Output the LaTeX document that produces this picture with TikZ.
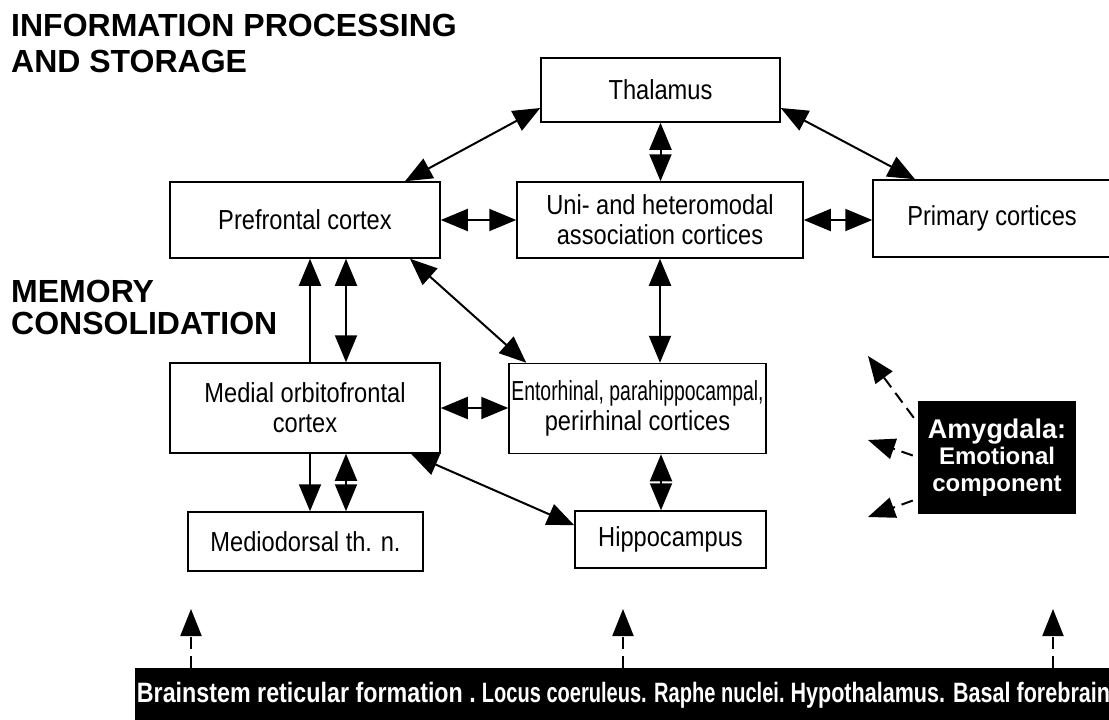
\documentclass[tikz,border=0pt]{standalone}
\usepackage{fontspec}
\setmainfont{Liberation Sans}
\newfontfamily\boxfont{Liberation Sans}[FakeStretch=0.86]
\newfontfamily\barfont{Liberation Sans}[FakeStretch=0.77]
\usetikzlibrary{arrows.meta,calc}
\begin{document}
\begin{tikzpicture}[x=1pt,y=-1pt,
  box/.style={draw, line width=1.5pt, align=center, inner sep=0pt,
    font=\boxfont\fontsize{27.5}{30}\selectfont},
  ttl/.style={anchor=base west, inner sep=0pt, font=\bfseries\fontsize{32}{36}\selectfont},
  arr/.style={line width=2pt, -{Triangle[length=27pt,width=22pt]}},
  darr/.style={line width=2pt, {Triangle[length=27pt,width=22pt]}-{Triangle[length=27pt,width=22pt]}},
  dasharr/.style={line width=2pt, dash pattern=on 12pt off 7pt, -{Triangle[length=27pt,width=21pt]}}]
\useasboundingbox[fill=white] (0,0) rectangle (1109,720);

% titles
\node[ttl] (t1) at (11,36) {INFORMATION PROCESSING};
\node[ttl] (t2) at (11,72) {AND STORAGE};
\node[ttl] (t3) at (11,302) {MEMORY};
\node[ttl] (t4) at (11,334) {CONSOLIDATION};

% boxes
\node[box, minimum width=239pt, minimum height=64pt] (th) at (660.5,90) {Thalamus};
\node[box, minimum width=270pt, minimum height=76pt] (pf) at (305,220) {Prefrontal cortex};
\node[box, minimum width=286pt, minimum height=76pt] (uni) at (660,220) {Uni- and heteromodal\\association cortices};
\node[box, minimum width=238pt, minimum height=77pt] (pc) at (992,218.5) {Primary cortices};
\node[box, minimum width=270pt, minimum height=90pt] (mo) at (305,408) {Medial orbitofrontal\\cortex};
\node[box, minimum width=257pt, minimum height=90pt] (ent) at (637.5,408.5) {\scalebox{0.82}[1]{Entorhinal, parahippocampal,}\\perirhinal cortices};
\node[box, minimum width=235pt, minimum height=59pt] (md) at (305.5,541.5) {Mediodorsal th. n.};
\node[box, minimum width=191pt, minimum height=57pt] (hip) at (670.5,539.5) {Hippocampus};

% amygdala
\node[fill=black, text=white, align=center, inner sep=0pt, minimum width=158pt, minimum height=113pt,
  font=\bfseries\fontsize{24}{26.5}\selectfont] (amy) at (997,457.5)
  {{\fontsize{27}{27}\selectfont Amygdala:}\\Emotional\\component};

% bottom bar
\node[fill=black, inner sep=0pt, minimum width=977pt, minimum height=60pt, anchor=north west] (bar) at (135,668) {};
\node[anchor=base, inner sep=0pt, text=white, font=\barfont\bfseries\fontsize{28}{30}\selectfont] (bartext) at (623.5,702)
  {\scalebox{1.08}[1]{Brainstem reticular formation .} \scalebox{0.93}[1]{Locus coeruleus. Raphe nuclei.} Hypothalamus. Basal forebrain};

% connectors
\draw[darr] ([xshift=100pt]pf.north) -- ([yshift=-18pt]th.west);
\draw[darr] ([yshift=-18pt]th.east) -- ([xshift=-77pt]pc.north);
\draw[darr] (th.south) -- (th.south |- uni.north);
\draw[darr] (pf.east) -- (uni.west);
\draw[darr] (uni.east) -- (uni.east -| pc.west);
\draw[darr] (uni.south) -- (uni.south |- ent.north);
\draw[darr] ([xshift=105pt]pf.south) -- ([xshift=18pt]ent.north west);
\draw[arr] ([xshift=5pt]mo.north) -- ([xshift=5pt]pf.south);
\draw[darr] ([xshift=41pt]mo.north) -- ([xshift=41pt]pf.south);
\draw[darr] (mo.east) -- (mo.east -| ent.west);
\draw[darr] ([xshift=106pt]mo.south) -- ([yshift=-15pt]hip.north west);
\draw[arr] ([xshift=5pt]mo.south) -- ([xshift=4.5pt]md.north);
\draw[darr] ([xshift=41pt]mo.south) -- ([xshift=40.5pt]md.north);
\draw[darr] ([xshift=23.5pt]ent.south) -- ([xshift=-9.5pt]hip.north);

% amygdala dashed arrows
\coordinate (a1) at (868,356);
\coordinate (a2) at (868,440);
\coordinate (a3) at (868,517);
\draw[dasharr] ($(amy.north west)+(-4,17)$) -- (a1);
\draw[dasharr] ($(amy.west)+(-5,-2)$) -- (a2);
\draw[dasharr] ($(amy.west)+(-5,43)$) -- (a3);

% bottom dashed arrows
\coordinate (b1) at (191,609);
\coordinate (b2) at (623,609);
\coordinate (b3) at (1053,609);
\draw[dasharr] (bar.north -| b1) -- (b1);
\draw[dasharr] (bar.north -| b2) -- (b2);
\draw[dasharr] (bar.north -| b3) -- (b3);
\end{tikzpicture}
\end{document}
